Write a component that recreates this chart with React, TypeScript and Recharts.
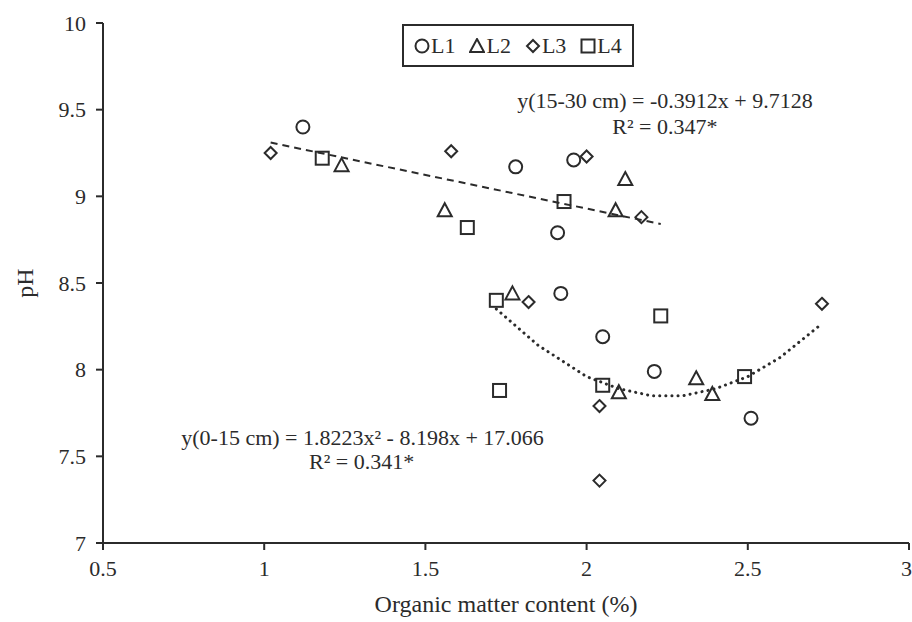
import React from "react";
import {
    ScatterChart,
    Scatter,
    XAxis,
    YAxis,
    Legend,
    ReferenceDot,
} from "recharts";

const FONT = '"Liberation Serif", "Times New Roman", serif';
const INK = "#2b2b2b";

// measured points, x = organic matter (%), y = pH
const seriesL1 = [
    {x: 1.12, y: 9.4},
    {x: 1.78, y: 9.17},
    {x: 1.96, y: 9.21},
    {x: 1.91, y: 8.79},
    {x: 1.92, y: 8.44},
    {x: 2.05, y: 8.19},
    {x: 2.21, y: 7.99},
    {x: 2.51, y: 7.72},
];
const seriesL2 = [
    {x: 1.24, y: 9.18},
    {x: 1.56, y: 8.92},
    {x: 2.12, y: 9.1},
    {x: 2.09, y: 8.92},
    {x: 1.77, y: 8.44},
    {x: 2.34, y: 7.95},
    {x: 2.1, y: 7.87},
    {x: 2.39, y: 7.86},
];
const seriesL3 = [
    {x: 1.02, y: 9.25},
    {x: 1.58, y: 9.26},
    {x: 2.0, y: 9.23},
    {x: 2.17, y: 8.88},
    {x: 1.82, y: 8.39},
    {x: 2.73, y: 8.38},
    {x: 2.04, y: 7.79},
    {x: 2.04, y: 7.36},
];
const seriesL4 = [
    {x: 1.18, y: 9.22},
    {x: 1.63, y: 8.82},
    {x: 1.93, y: 8.97},
    {x: 1.72, y: 8.4},
    {x: 1.73, y: 7.88},
    {x: 2.23, y: 8.31},
    {x: 2.05, y: 7.91},
    {x: 2.49, y: 7.96},
];

// trend lines
const trend1530 = [
    {x: 1.02, y: 9.31},
    {x: 2.23, y: 8.84},
];
const trend015 = [
    {x: 1.72, y: 8.35},
    {x: 1.85, y: 8.14},
    {x: 2.0, y: 7.96},
    {x: 2.1, y: 7.89},
    {x: 2.2, y: 7.85},
    {x: 2.3, y: 7.85},
    {x: 2.4, y: 7.89},
    {x: 2.5, y: 7.96},
    {x: 2.6, y: 8.07},
    {x: 2.72, y: 8.25},
];

const xTicks = [0.5, 1, 1.5, 2, 2.5, 3];
const yTicks = [7, 7.5, 8, 8.5, 9, 9.5, 10];
const legendNames = ["L1", "L2", "L3", "L4"];

const eq1530 = "y(15-30 cm) = -0.3912x + 9.7128";
const r1530 = "R² = 0.347*";
const eq015 = "y(0-15 cm) = 1.8223x² - 8.198x + 17.066";
const r015 = "R² = 0.341*";

function Marker({kind, cx, cy}: {kind: string; cx: number; cy: number}) {
    const common = {fill: "none", stroke: INK, strokeWidth: 2};
    if (kind === "L1") return <circle cx={cx} cy={cy} r={6.5} {...common} />;
    if (kind === "L2")
        return <polygon points={`${cx},${cy - 7} ${cx + 7},${cy + 6} ${cx - 7},${cy + 6}`} {...common} />;
    if (kind === "L3")
        return <polygon points={`${cx},${cy - 6} ${cx + 6},${cy} ${cx},${cy + 6} ${cx - 6},${cy}`} {...common} />;
    return <rect x={cx - 6.5} y={cy - 6.5} width={13} height={13} {...common} />;
}

const shapeFor = (kind: string) => (props: any) => <Marker kind={kind} cx={props.cx} cy={props.cy} />;

function LegendBox() {
    return (
        <div
            style={{
                border: `2px solid ${INK}`,
                display: "flex",
                alignItems: "center",
                gap: 14,
                padding: "7px 10px 6px 10px",
                fontFamily: FONT,
                fontSize: 22,
                lineHeight: "26px",
                color: INK,
                background: "#fff",
            }}
        >
            {legendNames.map((n) => (
                <span key={n} style={{display: "flex", alignItems: "center"}}>
                    <svg width={16} height={16}>
                        <Marker kind={n} cx={8} cy={8} />
                    </svg>
                    <span style={{marginLeft: 1}}>{n}</span>
                </span>
            ))}
        </div>
    );
}

const noDot = () => <g />;

function note(text: string) {
    return (props: any) => {
        const vb = props.viewBox || {};
        const x = (vb.x ?? 0) + (vb.width ?? 0) / 2;
        const y = (vb.y ?? 0) + (vb.height ?? 0) / 2;
        return (
            <text x={x} y={y + 7} textAnchor="middle" fontFamily={FONT} fontSize={22} fill={INK}>
                {text}
            </text>
        );
    };
}

export default function App() {
    const tickStyle = {fontFamily: FONT, fontSize: 22, fill: INK};
    return (
        <div style={{position: "absolute", left: 0, top: 0, background: "#fff"}}>
            <ScatterChart width={912} height={622} margin={{top: 23, right: 3, bottom: 0, left: 0}}>
                <XAxis
                    type="number"
                    dataKey="x"
                    domain={[0.5, 3]}
                    ticks={xTicks}
                    height={79}
                    tickSize={7}
                    tickMargin={10}
                    tick={tickStyle}
                    axisLine={{stroke: INK, strokeWidth: 2}}
                    tickLine={{stroke: INK, strokeWidth: 2}}
                    label={{
                        value: "Organic matter content (%)",
                        position: "insideBottom",
                        offset: 10,
                        style: {fontFamily: FONT, fontSize: 24, fill: INK},
                    }}
                />
                <YAxis
                    type="number"
                    dataKey="y"
                    domain={[7, 10]}
                    ticks={yTicks}
                    width={103}
                    tickSize={7}
                    tickMargin={10}
                    tick={tickStyle}
                    axisLine={{stroke: INK, strokeWidth: 2}}
                    tickLine={{stroke: INK, strokeWidth: 2}}
                    label={{
                        value: "pH",
                        angle: -90,
                        position: "insideLeft",
                        offset: 24,
                        style: {fontFamily: FONT, fontSize: 24, fill: INK, textAnchor: "middle"},
                    }}
                />
                <Legend
                    layout="vertical"
                    align="center"
                    verticalAlign="middle"
                    content={() => <LegendBox />}
                    wrapperStyle={{top: 24, left: 402, width: "auto"}}
                />

                <Scatter
                    data={trend1530}
                    line={{stroke: INK, strokeWidth: 2, strokeDasharray: "7 5"}}
                    shape={noDot}
                    legendType="none"
                    isAnimationActive={false}
                />
                <Scatter
                    data={trend015}
                    lineType="joint"
                    line={{stroke: INK, strokeWidth: 3, strokeDasharray: "0.1 6", strokeLinecap: "round"}}
                    shape={noDot}
                    legendType="none"
                    isAnimationActive={false}
                />

                <Scatter name="L1" data={seriesL1} shape={shapeFor("L1")} isAnimationActive={false} />
                <Scatter name="L2" data={seriesL2} shape={shapeFor("L2")} isAnimationActive={false} />
                <Scatter name="L3" data={seriesL3} shape={shapeFor("L3")} isAnimationActive={false} />
                <Scatter name="L4" data={seriesL4} shape={shapeFor("L4")} isAnimationActive={false} />

                <ReferenceDot x={2.243} y={9.549} r={0} label={note(eq1530)} />
                <ReferenceDot x={2.243} y={9.399} r={0} label={note(r1530)} />
                <ReferenceDot x={1.305} y={7.608} r={0} label={note(eq015)} />
                <ReferenceDot x={1.302} y={7.47} r={0} label={note(r015)} />
            </ScatterChart>
        </div>
    );
}
